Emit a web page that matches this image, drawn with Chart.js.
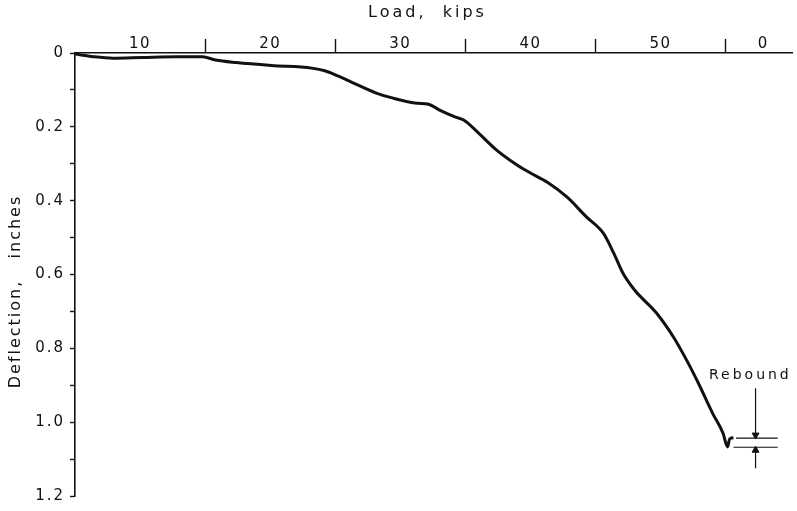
<!DOCTYPE html>
<html>
<head>
<meta charset="utf-8">
<script src="https://cdn.jsdelivr.net/npm/chart.js@4.4.1/dist/chart.umd.min.js"></script>
<style>
  html, body { margin: 0; padding: 0; background: #fff; }
  #wrap { width: 797px; height: 511px; }
</style>
</head>
<body>
<div id="wrap"><canvas id="chart"></canvas></div>
<script>
// Load-deflection trace
const loadKips = [0, 1.4, 2.9, 5.2, 7.8, 9.8, 10.8, 12.4, 15.1, 18.2, 19.2, 20.2, 21.2, 23.1, 24.3, 26.3, 27.1, 28.1, 29.2, 29.9,
    30.9, 32.4, 34.0, 35.0, 36.3, 37.8, 39.3, 40.6, 41.4, 42.1, 43.0, 44.7, 46.0, 47.0, 47.9, 49.0, 49.8, 50.15, 50.3, 50.6];
const deflectionIn = [0.003, 0.010, 0.014, 0.012, 0.010, 0.010, 0.019, 0.026, 0.034, 0.041, 0.048, 0.062, 0.078, 0.108, 0.121, 0.136, 0.138, 0.156, 0.173, 0.182,
    0.213, 0.263, 0.304, 0.325, 0.350, 0.390, 0.444, 0.488, 0.542, 0.596, 0.642, 0.705, 0.770, 0.832, 0.894, 0.976, 1.030, 1.067, 1.046, 1.042];

// Rebound marker
const reboundLevels = [1.043, 1.068];
const reboundSpanTop = [50.8, 54.0];
const reboundSpanBottom = [50.6, 54.0];
const reboundArrowLoad = 52.3;
const reboundArrowTails = [0.908, 1.125];
const reboundLabel = 'Rebound';

// Axis ticks
const loadTickMarks = [10, 20, 30, 40, 50];
const loadLabelAt = [5, 15, 25, 35, 45, 52.9];
const loadLabels = ['10', '20', '30', '40', '50', '0'];
const deflTicks = [0, 0.1, 0.2, 0.3, 0.4, 0.5, 0.6, 0.7, 0.8, 0.9, 1.0, 1.1, 1.2];
const deflLabels = ['0', '', '0.2', '', '0.4', '', '0.6', '', '0.8', '', '1.0', '', '1.2'];

const INK = '#111';
const FONT = "'DejaVu Sans', sans-serif";

function pts(xs, ys) {
    return xs.map((x, i) => ({ x: x, y: ys[i] }));
}

// spread letters like the hand lettering, and nudge titles
function spaceScaleText(scale, titleSpacing, labelSpacing, dx, dy) {
    if (scale._spaced) return;
    scale._spaced = true;
    const drawTitle = scale.drawTitle;
    const drawLabels = scale.drawLabels;
    scale.drawTitle = function () {
        const ctx = this.ctx;
        ctx.save();
        ctx.letterSpacing = titleSpacing;
        ctx.translate(dx, dy);
        drawTitle.apply(this, arguments);
        ctx.restore();
    };
    scale.drawLabels = function () {
        const ctx = this.ctx;
        ctx.save();
        ctx.letterSpacing = labelSpacing;
        drawLabels.apply(this, arguments);
        ctx.restore();
    };
}

const letterPlugin = {
    id: 'letterPlugin',
    beforeDraw(chart) {
        spaceScaleText(chart.scales.x, '3px', '1.5px', -6, 0);
        spaceScaleText(chart.scales.y, '2px', '2px', 6, 17);
    },
    afterDatasetsDraw(chart) {
        const ctx = chart.ctx;
        const x = chart.scales.x.getPixelForValue(51.9);
        const y = chart.scales.y.getPixelForValue(0.873);
        ctx.save();
        ctx.font = '14px ' + FONT;
        ctx.letterSpacing = '3px';
        ctx.fillStyle = INK;
        ctx.textAlign = 'center';
        ctx.textBaseline = 'middle';
        ctx.fillText(reboundLabel, x, y);
        ctx.restore();
    }
};

const thin = { borderColor: INK, borderWidth: 1.2, pointRadius: 0, tension: 0, fill: false };

new Chart(document.getElementById('chart'), {
    type: 'line',
    data: {
        datasets: [
            {
                data: pts(loadKips, deflectionIn),
                borderColor: INK,
                borderWidth: 3,
                pointRadius: 0,
                cubicInterpolationMode: 'monotone',
                fill: false
            },
            Object.assign({ data: pts(reboundSpanTop, [reboundLevels[0], reboundLevels[0]]) }, thin),
            Object.assign({ data: pts(reboundSpanBottom, [reboundLevels[1], reboundLevels[1]]) }, thin),
            Object.assign({}, thin, {
                data: pts([reboundArrowLoad, reboundArrowLoad], [reboundArrowTails[0], reboundLevels[0] - 0.008]),
                pointRadius: [0, 4], pointStyle: 'triangle', pointRotation: 180,
                pointBackgroundColor: INK, pointBorderColor: INK, pointBorderWidth: 1
            }),
            Object.assign({}, thin, {
                data: pts([reboundArrowLoad, reboundArrowLoad], [reboundArrowTails[1], reboundLevels[1] + 0.008]),
                pointRadius: [0, 4], pointStyle: 'triangle', pointRotation: 0,
                pointBackgroundColor: INK, pointBorderColor: INK, pointBorderWidth: 1
            })
        ]
    },
    options: {
        responsive: true,
        maintainAspectRatio: false,
        animation: false,
        layout: { padding: { left: 0, right: 0, top: 0, bottom: 15 } },
        plugins: {
            legend: { display: false },
            tooltip: { enabled: false }
        },
        scales: {
            x: {
                type: 'linear',
                position: 'top',
                min: 0,
                max: 55.1,
                afterFit: s => { s.height = 53; },
                afterBuildTicks: s => {
                    s.ticks = loadTickMarks.concat(loadLabelAt).sort((a, b) => a - b).map(v => ({ value: v }));
                },
                border: { color: INK, width: 1.6 },
                grid: {
                    drawOnChartArea: false,
                    drawTicks: true,
                    tickLength: 14,
                    tickWidth: 1.4,
                    tickColor: c => (c.tick && loadTickMarks.includes(c.tick.value)) ? INK : 'rgba(0,0,0,0)'
                },
                ticks: {
                    autoSkip: false,
                    maxRotation: 0,
                    padding: -14,
                    color: INK,
                    font: { family: FONT, size: 15 },
                    callback: v => {
                        const i = loadLabelAt.indexOf(v);
                        return i >= 0 ? loadLabels[i] : '';
                    }
                },
                title: {
                    display: true,
                    text: 'Load,  kips',
                    color: INK,
                    font: { family: FONT, size: 16 },
                    padding: { top: 3, bottom: 0 }
                }
            },
            y: {
                type: 'linear',
                reverse: true,
                min: 0,
                max: 1.2,
                afterFit: s => { s.width = 75; },
                afterBuildTicks: s => {
                    s.ticks = deflTicks.map(v => ({ value: v }));
                },
                border: { color: INK, width: 1.6 },
                grid: {
                    drawOnChartArea: false,
                    drawTicks: true,
                    tickLength: 5,
                    tickWidth: 1.4,
                    tickColor: INK
                },
                ticks: {
                    autoSkip: false,
                    padding: 5,
                    color: INK,
                    font: { family: FONT, size: 15 },
                    callback: (v, i) => deflLabels[i]
                },
                title: {
                    display: true,
                    text: 'Deflection,   inches',
                    color: INK,
                    font: { family: FONT, size: 16 },
                    padding: { top: 0, bottom: 0 }
                }
            }
        }
    },
    plugins: [letterPlugin]
});
</script>
</body>
</html>
